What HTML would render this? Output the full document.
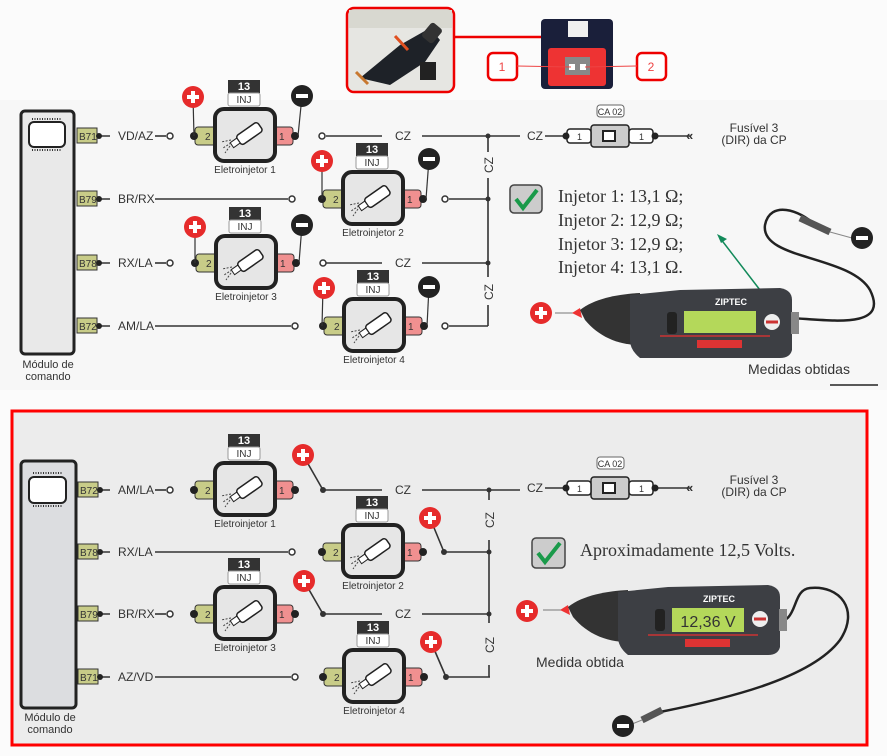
<!DOCTYPE html>
<html><head><meta charset="utf-8"><style>
html,body{margin:0;padding:0;background:#fff}
svg{display:block}
text{font-family:"Liberation Sans",sans-serif;fill:#333}
.s{font-family:"Liberation Serif",serif;fill:#333}
</style></head><body>
<svg width="887" height="756" viewBox="0 0 887 756" xmlns="http://www.w3.org/2000/svg">
<rect width="887" height="756" fill="#fbfbfb"/>
<rect x="0" y="100" width="887" height="290" fill="#f7f7f7"/>
<rect x="12" y="411" width="855" height="334" fill="#ececec" stroke="#f00" stroke-width="3"/>

<rect x="347" y="8" width="107" height="84" rx="7" fill="#e6e6e2" stroke="#e00" stroke-width="2.5"/>
<rect x="349" y="10" width="103" height="18" fill="#d8d8d0"/>
<path d="M360 78 L400 45 L430 28 L440 40 L425 62 L390 85 Z" fill="#1e2228"/>
<rect x="425" y="24" width="14" height="18" rx="3" fill="#333" transform="rotate(40 432 33)"/>
<path d="M395 36 L408 50" stroke="#e05020" stroke-width="3"/>
<path d="M356 72 L368 84" stroke="#c87830" stroke-width="3"/>
<rect x="420" y="62" width="16" height="18" fill="#222"/>
<line x1="454" y1="37" x2="541" y2="37" stroke="#e00" stroke-width="2.5"/>
<rect x="541" y="19" width="72" height="70" rx="4" fill="#1a1f3a"/>
<rect x="568" y="21" width="20" height="16" fill="#f0f0f0"/>
<rect x="548" y="48" width="58" height="38" rx="3" fill="#ee3333"/>
<rect x="565" y="57" width="25" height="18" fill="#888"/>
<rect x="569" y="64" width="6" height="6" fill="#fff"/><rect x="580" y="64" width="6" height="6" fill="#fff"/>
<rect x="488" y="53" width="29" height="27" rx="5" fill="#fff" stroke="#e00" stroke-width="2.5"/>
<text x="502" y="71" font-size="12" text-anchor="middle" style="fill:#e44">1</text>
<rect x="637" y="53" width="29" height="27" rx="5" fill="#fff" stroke="#e00" stroke-width="2.5"/>
<text x="651" y="71" font-size="12" text-anchor="middle" style="fill:#e44">2</text>
<line x1="517" y1="66" x2="571" y2="67" stroke="#e44" stroke-width="1"/>
<line x1="637" y1="66" x2="585" y2="67" stroke="#e44" stroke-width="1"/>

<g stroke="#333" stroke-width="1.6" fill="none">
<line x1="90" y1="136" x2="110" y2="136"/><line x1="155" y1="136" x2="166" y2="136"/>
<line x1="326" y1="136" x2="382" y2="136"/><line x1="422" y1="136" x2="520" y2="136"/>
<line x1="545" y1="136" x2="565" y2="136"/><line x1="655" y1="136" x2="690" y2="136"/>
<line x1="90" y1="199" x2="110" y2="199"/><line x1="155" y1="199" x2="288" y2="199"/>
<line x1="449" y1="199" x2="488" y2="199"/>
<line x1="90" y1="263" x2="110" y2="263"/><line x1="155" y1="263" x2="166" y2="263"/>
<line x1="326" y1="263" x2="382" y2="263"/><line x1="422" y1="263" x2="488" y2="263"/>
<line x1="90" y1="326" x2="110" y2="326"/><line x1="155" y1="326" x2="291" y2="326"/>
<line x1="449" y1="326" x2="488" y2="326"/>
<line x1="488" y1="136" x2="488" y2="152"/><line x1="488" y1="178" x2="488" y2="277"/><line x1="488" y1="305" x2="488" y2="326"/>
</g>
<g fill="#fff" stroke="#333" stroke-width="1.5">
<circle cx="170" cy="136" r="3"/><circle cx="322" cy="136" r="3"/><circle cx="292" cy="199" r="3"/><circle cx="445" cy="199" r="3"/>
<circle cx="170" cy="263" r="3"/><circle cx="323" cy="263" r="3"/><circle cx="295" cy="326" r="3"/><circle cx="445" cy="326" r="3"/>
</g>
<g fill="#333"><circle cx="488" cy="136" r="2.5"/><circle cx="488" cy="199" r="2.5"/><circle cx="488" cy="263" r="2.5"/></g>
<g font-size="12">
<text x="118" y="140">VD/AZ</text><text x="118" y="203">BR/RX</text><text x="118" y="267">RX/LA</text><text x="118" y="330">AM/LA</text>
<text x="395" y="140">CZ</text><text x="395" y="267">CZ</text><text x="527" y="140">CZ</text>
<text transform="translate(493,165) rotate(-90)" text-anchor="middle">CZ</text>
<text transform="translate(493,292) rotate(-90)" text-anchor="middle">CZ</text>
</g>
<rect x="21" y="111" width="53" height="243" rx="4" fill="#e9e9e9" stroke="#222" stroke-width="3"/>
<rect x="29" y="122" width="36" height="25" rx="5" fill="#fff" stroke="#222" stroke-width="2"/>
<path d="M32 119h30M32 150h30" stroke="#333" stroke-width="2" stroke-dasharray="1 1.5"/>
<text x="48" y="368" font-size="11" text-anchor="middle">Módulo de</text>
<text x="48" y="380" font-size="11" text-anchor="middle">comando</text>
<g font-size="10">
<rect x="77" y="128" width="20" height="15" fill="#c8cc88" stroke="#333"/><text x="79" y="140">B71</text>
<rect x="77" y="191" width="20" height="15" fill="#c8cc88" stroke="#333"/><text x="79" y="203">B79</text>
<rect x="77" y="255" width="20" height="15" fill="#c8cc88" stroke="#333"/><text x="79" y="267">B78</text>
<rect x="77" y="318" width="20" height="15" fill="#c8cc88" stroke="#333"/><text x="79" y="330">B72</text>
</g>
<g fill="#222"><circle cx="99" cy="136" r="3"/><circle cx="99" cy="199" r="3"/><circle cx="99" cy="263" r="3"/><circle cx="99" cy="326" r="3"/></g>

<g transform="translate(245,136)">
<rect x="-17" y="-56" width="32" height="13" fill="#333"/><text x="-1" y="-46" font-size="11" text-anchor="middle" font-weight="bold" style="fill:#fff">13</text>
<rect x="-17" y="-43" width="32" height="13" rx="2" fill="#fff" stroke="#999"/><text x="-1" y="-33" font-size="10" text-anchor="middle">INJ</text>
<rect x="-50" y="-9" width="24" height="18" rx="3" fill="#c8cc88" stroke="#333"/><text x="-40" y="4" font-size="10">2</text>
<rect x="26" y="-9" width="22" height="18" rx="3" fill="#f09090" stroke="#333"/><text x="34" y="4" font-size="10">1</text>
<circle cx="-51" cy="0" r="4" fill="#222"/><circle cx="50" cy="0" r="4" fill="#222"/>
<rect x="-30" y="-27" width="60" height="52" rx="9" fill="#e6e6e6" stroke="#222" stroke-width="4"/>
<g transform="rotate(-35)"><rect x="-8" y="-5" width="26" height="11" rx="3" fill="#fff" stroke="#222" stroke-width="1.5"/><rect x="-16" y="-3" width="8" height="6" fill="#fff" stroke="#222"/></g>
<path d="M-14 4 L-24 6 M-14 7 L-22 12 M-15 10 L-20 17" stroke="#444" stroke-dasharray="2 1.5"/>
<text x="0" y="37" font-size="10" text-anchor="middle">Eletroinjetor 1</text>
</g>
<g transform="translate(373,199)">
<rect x="-17" y="-56" width="32" height="13" fill="#333"/><text x="-1" y="-46" font-size="11" text-anchor="middle" font-weight="bold" style="fill:#fff">13</text>
<rect x="-17" y="-43" width="32" height="13" rx="2" fill="#fff" stroke="#999"/><text x="-1" y="-33" font-size="10" text-anchor="middle">INJ</text>
<rect x="-50" y="-9" width="24" height="18" rx="3" fill="#c8cc88" stroke="#333"/><text x="-40" y="4" font-size="10">2</text>
<rect x="26" y="-9" width="22" height="18" rx="3" fill="#f09090" stroke="#333"/><text x="34" y="4" font-size="10">1</text>
<circle cx="-51" cy="0" r="4" fill="#222"/><circle cx="50" cy="0" r="4" fill="#222"/>
<rect x="-30" y="-27" width="60" height="52" rx="9" fill="#e6e6e6" stroke="#222" stroke-width="4"/>
<g transform="rotate(-35)"><rect x="-8" y="-5" width="26" height="11" rx="3" fill="#fff" stroke="#222" stroke-width="1.5"/><rect x="-16" y="-3" width="8" height="6" fill="#fff" stroke="#222"/></g>
<path d="M-14 4 L-24 6 M-14 7 L-22 12 M-15 10 L-20 17" stroke="#444" stroke-dasharray="2 1.5"/>
<text x="0" y="37" font-size="10" text-anchor="middle">Eletroinjetor 2</text>
</g>
<g transform="translate(246,263)">
<rect x="-17" y="-56" width="32" height="13" fill="#333"/><text x="-1" y="-46" font-size="11" text-anchor="middle" font-weight="bold" style="fill:#fff">13</text>
<rect x="-17" y="-43" width="32" height="13" rx="2" fill="#fff" stroke="#999"/><text x="-1" y="-33" font-size="10" text-anchor="middle">INJ</text>
<rect x="-50" y="-9" width="24" height="18" rx="3" fill="#c8cc88" stroke="#333"/><text x="-40" y="4" font-size="10">2</text>
<rect x="26" y="-9" width="22" height="18" rx="3" fill="#f09090" stroke="#333"/><text x="34" y="4" font-size="10">1</text>
<circle cx="-51" cy="0" r="4" fill="#222"/><circle cx="50" cy="0" r="4" fill="#222"/>
<rect x="-30" y="-27" width="60" height="52" rx="9" fill="#e6e6e6" stroke="#222" stroke-width="4"/>
<g transform="rotate(-35)"><rect x="-8" y="-5" width="26" height="11" rx="3" fill="#fff" stroke="#222" stroke-width="1.5"/><rect x="-16" y="-3" width="8" height="6" fill="#fff" stroke="#222"/></g>
<path d="M-14 4 L-24 6 M-14 7 L-22 12 M-15 10 L-20 17" stroke="#444" stroke-dasharray="2 1.5"/>
<text x="0" y="37" font-size="10" text-anchor="middle">Eletroinjetor 3</text>
</g>
<g transform="translate(374,326)">
<rect x="-17" y="-56" width="32" height="13" fill="#333"/><text x="-1" y="-46" font-size="11" text-anchor="middle" font-weight="bold" style="fill:#fff">13</text>
<rect x="-17" y="-43" width="32" height="13" rx="2" fill="#fff" stroke="#999"/><text x="-1" y="-33" font-size="10" text-anchor="middle">INJ</text>
<rect x="-50" y="-9" width="24" height="18" rx="3" fill="#c8cc88" stroke="#333"/><text x="-40" y="4" font-size="10">2</text>
<rect x="26" y="-9" width="22" height="18" rx="3" fill="#f09090" stroke="#333"/><text x="34" y="4" font-size="10">1</text>
<circle cx="-51" cy="0" r="4" fill="#222"/><circle cx="50" cy="0" r="4" fill="#222"/>
<rect x="-30" y="-27" width="60" height="52" rx="9" fill="#e6e6e6" stroke="#222" stroke-width="4"/>
<g transform="rotate(-35)"><rect x="-8" y="-5" width="26" height="11" rx="3" fill="#fff" stroke="#222" stroke-width="1.5"/><rect x="-16" y="-3" width="8" height="6" fill="#fff" stroke="#222"/></g>
<path d="M-14 4 L-24 6 M-14 7 L-22 12 M-15 10 L-20 17" stroke="#444" stroke-dasharray="2 1.5"/>
<text x="0" y="37" font-size="10" text-anchor="middle">Eletroinjetor 4</text>
</g>
<g stroke="#333" stroke-width="1.2">
<line x1="193" y1="97" x2="194" y2="136"/><line x1="302" y1="96" x2="298" y2="136"/>
<line x1="322" y1="160" x2="322" y2="199"/><line x1="429" y1="159" x2="426" y2="199"/>
<line x1="195" y1="227" x2="195" y2="263"/><line x1="302" y1="225" x2="299" y2="263"/>
<line x1="323" y1="288" x2="322" y2="326"/><line x1="429" y1="287" x2="427" y2="326"/>
</g>
<g transform="translate(193,97)"><circle r="11" fill="#e62b2b"/><path d="M-6 0h12M0 -6v12" stroke="#fff" stroke-width="4"/></g>
<g transform="translate(322,161)"><circle r="11" fill="#e62b2b"/><path d="M-6 0h12M0 -6v12" stroke="#fff" stroke-width="4"/></g>
<g transform="translate(195,227)"><circle r="11" fill="#e62b2b"/><path d="M-6 0h12M0 -6v12" stroke="#fff" stroke-width="4"/></g>
<g transform="translate(324,288)"><circle r="11" fill="#e62b2b"/><path d="M-6 0h12M0 -6v12" stroke="#fff" stroke-width="4"/></g>
<g transform="translate(302,96)"><circle r="11" fill="#222"/><path d="M-6 0h12" stroke="#fff" stroke-width="4"/></g>
<g transform="translate(429,159)"><circle r="11" fill="#222"/><path d="M-6 0h12" stroke="#fff" stroke-width="4"/></g>
<g transform="translate(302,225)"><circle r="11" fill="#222"/><path d="M-6 0h12" stroke="#fff" stroke-width="4"/></g>
<g transform="translate(429,287)"><circle r="11" fill="#222"/><path d="M-6 0h12" stroke="#fff" stroke-width="4"/></g>
<g transform="translate(0,136)">
<rect x="597" y="-31" width="27" height="12" rx="3" fill="#fff" stroke="#666"/><text x="610" y="-21" font-size="9" text-anchor="middle">CA 02</text>
<rect x="591" y="-11" width="38" height="22" rx="3" fill="#ccc" stroke="#222" stroke-width="1.5"/>
<rect x="567" y="-7" width="24" height="14" rx="3" fill="#fff" stroke="#222" stroke-width="1.5"/><text x="577" y="4" font-size="9">1</text>
<rect x="629" y="-7" width="24" height="14" rx="3" fill="#fff" stroke="#222" stroke-width="1.5"/><text x="639" y="4" font-size="9">1</text>
<circle cx="566" cy="0" r="3.5" fill="#222"/><circle cx="655" cy="0" r="3.5" fill="#222"/>
<rect x="603" y="-5" width="12" height="10" fill="#fff" stroke="#222" stroke-width="2"/>
<text x="686" y="4" font-size="13" font-weight="bold">«</text>
<text x="754" y="-4" font-size="12" text-anchor="middle">Fusível 3</text>
<text x="754" y="8" font-size="12" text-anchor="middle">(DIR) da CP</text>
</g>
<rect x="510" y="185" width="32" height="28" rx="4" fill="#ccc" stroke="#444" stroke-width="1.5"/>
<path d="M516 199 L523 208 L537 190" stroke="#1a9a4a" stroke-width="4" fill="none"/>
<text class="s" x="558" y="202" font-size="18">Injetor 1: 13,1 Ω;</text>
<text class="s" x="558" y="226" font-size="18">Injetor 2: 12,9 Ω;</text>
<text class="s" x="558" y="250" font-size="18">Injetor 3: 12,9 Ω;</text>
<text class="s" x="558" y="273" font-size="18">Injetor 4: 13,1 Ω.</text>
<line x1="760" y1="290" x2="720" y2="238" stroke="#128a5a" stroke-width="1.5"/>
<path d="M717 234 L727 239 L721 243 Z" fill="#128a5a"/>
<path d="M790 318 C 830 320, 890 330, 870 290 C 850 255, 760 260, 765 225 C 770 200, 800 210, 815 225" stroke="#222" stroke-width="2.5" fill="none"/>
<path d="M800 218 L830 232" stroke="#555" stroke-width="7"/>
<path d="M830 232 L852 238" stroke="#888" stroke-width="1"/>
<g transform="translate(862,238)"><circle r="11" fill="#222"/><path d="M-6 0h12" stroke="#fff" stroke-width="4"/></g>
<g>
<line x1="555" y1="313" x2="575" y2="313" stroke="#777"/>
<path d="M572 313 L580 308 L582 318 Z" fill="#e33"/>
<path d="M580 310 C 595 298, 620 294, 640 293 L640 345 C 620 345, 600 338, 585 320 Z" fill="#333"/>
<path d="M630 295 L680 290 L780 288 Q 792 290 792 300 L792 350 Q 790 358 780 358 L640 358 Q 630 350 630 340 Z" fill="#3d3f44"/>
<rect x="684" y="311" width="72" height="22" fill="#b4d85a"/>
<rect x="667" y="312" width="10" height="22" rx="3" fill="#222"/>
<path d="M660 336 L770 336" stroke="#c33" stroke-width="1.5"/>
<rect x="697" y="340" width="45" height="8" fill="#d33"/>
<text x="715" y="305" font-size="9" font-weight="bold" style="fill:#fff">ZIPTEC</text>
<circle cx="772" cy="322" r="8" fill="#eee"/><path d="M766 322h12" stroke="#c33" stroke-width="3"/>
<rect x="791" y="312" width="8" height="22" fill="#888"/>
</g>
<text x="748" y="374" font-size="14">Medidas obtidas</text>
<line x1="830" y1="385" x2="878" y2="385" stroke="#222" stroke-width="1.5"/>
<g transform="translate(541,313)"><circle r="11" fill="#e62b2b"/><path d="M-6 0h12M0 -6v12" stroke="#fff" stroke-width="4"/></g>

<g stroke="#333" stroke-width="1.6" fill="none">
<line x1="90" y1="490" x2="110" y2="490"/><line x1="155" y1="490" x2="166" y2="490"/>
<line x1="323" y1="490" x2="382" y2="490"/><line x1="422" y1="490" x2="520" y2="490"/>
<line x1="545" y1="488" x2="565" y2="488"/><line x1="655" y1="488" x2="690" y2="488"/>
<line x1="90" y1="552" x2="110" y2="552"/><line x1="155" y1="552" x2="288" y2="552"/>
<line x1="444" y1="552" x2="488" y2="552"/>
<line x1="90" y1="614" x2="110" y2="614"/><line x1="155" y1="614" x2="166" y2="614"/>
<line x1="323" y1="614" x2="382" y2="614"/><line x1="422" y1="614" x2="488" y2="614"/>
<line x1="90" y1="677" x2="110" y2="677"/><line x1="155" y1="677" x2="291" y2="677"/>
<line x1="446" y1="677" x2="490" y2="677"/>
<line x1="489" y1="490" x2="489" y2="500"/><line x1="489" y1="540" x2="489" y2="623"/><line x1="489" y1="665" x2="489" y2="677"/>
<line x1="303" y1="455" x2="323" y2="490"/><line x1="430" y1="518" x2="444" y2="552"/>
<line x1="304" y1="581" x2="323" y2="614"/><line x1="431" y1="642" x2="446" y2="677"/>
</g>
<g fill="#fff" stroke="#333" stroke-width="1.5">
<circle cx="170" cy="490" r="3"/><circle cx="292" cy="552" r="3"/><circle cx="170" cy="614" r="3"/><circle cx="295" cy="677" r="3"/>
</g>
<g fill="#333"><circle cx="489" cy="490" r="2.5"/><circle cx="489" cy="552" r="2.5"/><circle cx="489" cy="614" r="2.5"/>
<circle cx="323" cy="490" r="3"/><circle cx="444" cy="552" r="3"/><circle cx="323" cy="614" r="3"/><circle cx="446" cy="677" r="3"/></g>
<g font-size="12">
<text x="118" y="494">AM/LA</text><text x="118" y="556">RX/LA</text><text x="118" y="618">BR/RX</text><text x="118" y="681">AZ/VD</text>
<text x="395" y="494">CZ</text><text x="395" y="618">CZ</text><text x="527" y="492">CZ</text>
<text transform="translate(494,520) rotate(-90)" text-anchor="middle">CZ</text>
<text transform="translate(494,645) rotate(-90)" text-anchor="middle">CZ</text>
</g>
<rect x="21" y="461" width="55" height="247" rx="4" fill="#dcdde0" stroke="#222" stroke-width="3"/>
<rect x="29" y="477" width="37" height="26" rx="5" fill="#fff" stroke="#222" stroke-width="2"/>
<path d="M33 473h30M33 506h30" stroke="#333" stroke-width="2" stroke-dasharray="1 1.5"/>
<text x="50" y="721" font-size="11" text-anchor="middle">Módulo de</text>
<text x="50" y="733" font-size="11" text-anchor="middle">comando</text>
<g font-size="10">
<rect x="78" y="482" width="20" height="15" fill="#c8cc88" stroke="#333"/><text x="80" y="494">B72</text>
<rect x="78" y="544" width="20" height="15" fill="#c8cc88" stroke="#333"/><text x="80" y="556">B78</text>
<rect x="78" y="606" width="20" height="15" fill="#c8cc88" stroke="#333"/><text x="80" y="618">B79</text>
<rect x="78" y="669" width="20" height="15" fill="#c8cc88" stroke="#333"/><text x="80" y="681">B71</text>
</g>
<g fill="#222"><circle cx="100" cy="490" r="3"/><circle cx="100" cy="552" r="3"/><circle cx="100" cy="614" r="3"/><circle cx="100" cy="677" r="3"/></g>

<g transform="translate(245,490)">
<rect x="-17" y="-56" width="32" height="13" fill="#333"/><text x="-1" y="-46" font-size="11" text-anchor="middle" font-weight="bold" style="fill:#fff">13</text>
<rect x="-17" y="-43" width="32" height="13" rx="2" fill="#fff" stroke="#999"/><text x="-1" y="-33" font-size="10" text-anchor="middle">INJ</text>
<rect x="-50" y="-9" width="24" height="18" rx="3" fill="#c8cc88" stroke="#333"/><text x="-40" y="4" font-size="10">2</text>
<rect x="26" y="-9" width="22" height="18" rx="3" fill="#f09090" stroke="#333"/><text x="34" y="4" font-size="10">1</text>
<circle cx="-51" cy="0" r="4" fill="#222"/><circle cx="50" cy="0" r="4" fill="#222"/>
<rect x="-30" y="-27" width="60" height="52" rx="9" fill="#e6e6e6" stroke="#222" stroke-width="4"/>
<g transform="rotate(-35)"><rect x="-8" y="-5" width="26" height="11" rx="3" fill="#fff" stroke="#222" stroke-width="1.5"/><rect x="-16" y="-3" width="8" height="6" fill="#fff" stroke="#222"/></g>
<path d="M-14 4 L-24 6 M-14 7 L-22 12 M-15 10 L-20 17" stroke="#444" stroke-dasharray="2 1.5"/>
<text x="0" y="37" font-size="10" text-anchor="middle">Eletroinjetor 1</text>
</g>
<g transform="translate(373,552)">
<rect x="-17" y="-56" width="32" height="13" fill="#333"/><text x="-1" y="-46" font-size="11" text-anchor="middle" font-weight="bold" style="fill:#fff">13</text>
<rect x="-17" y="-43" width="32" height="13" rx="2" fill="#fff" stroke="#999"/><text x="-1" y="-33" font-size="10" text-anchor="middle">INJ</text>
<rect x="-50" y="-9" width="24" height="18" rx="3" fill="#c8cc88" stroke="#333"/><text x="-40" y="4" font-size="10">2</text>
<rect x="26" y="-9" width="22" height="18" rx="3" fill="#f09090" stroke="#333"/><text x="34" y="4" font-size="10">1</text>
<circle cx="-51" cy="0" r="4" fill="#222"/><circle cx="50" cy="0" r="4" fill="#222"/>
<rect x="-30" y="-27" width="60" height="52" rx="9" fill="#e6e6e6" stroke="#222" stroke-width="4"/>
<g transform="rotate(-35)"><rect x="-8" y="-5" width="26" height="11" rx="3" fill="#fff" stroke="#222" stroke-width="1.5"/><rect x="-16" y="-3" width="8" height="6" fill="#fff" stroke="#222"/></g>
<path d="M-14 4 L-24 6 M-14 7 L-22 12 M-15 10 L-20 17" stroke="#444" stroke-dasharray="2 1.5"/>
<text x="0" y="37" font-size="10" text-anchor="middle">Eletroinjetor 2</text>
</g>
<g transform="translate(245,614)">
<rect x="-17" y="-56" width="32" height="13" fill="#333"/><text x="-1" y="-46" font-size="11" text-anchor="middle" font-weight="bold" style="fill:#fff">13</text>
<rect x="-17" y="-43" width="32" height="13" rx="2" fill="#fff" stroke="#999"/><text x="-1" y="-33" font-size="10" text-anchor="middle">INJ</text>
<rect x="-50" y="-9" width="24" height="18" rx="3" fill="#c8cc88" stroke="#333"/><text x="-40" y="4" font-size="10">2</text>
<rect x="26" y="-9" width="22" height="18" rx="3" fill="#f09090" stroke="#333"/><text x="34" y="4" font-size="10">1</text>
<circle cx="-51" cy="0" r="4" fill="#222"/><circle cx="50" cy="0" r="4" fill="#222"/>
<rect x="-30" y="-27" width="60" height="52" rx="9" fill="#e6e6e6" stroke="#222" stroke-width="4"/>
<g transform="rotate(-35)"><rect x="-8" y="-5" width="26" height="11" rx="3" fill="#fff" stroke="#222" stroke-width="1.5"/><rect x="-16" y="-3" width="8" height="6" fill="#fff" stroke="#222"/></g>
<path d="M-14 4 L-24 6 M-14 7 L-22 12 M-15 10 L-20 17" stroke="#444" stroke-dasharray="2 1.5"/>
<text x="0" y="37" font-size="10" text-anchor="middle">Eletroinjetor 3</text>
</g>
<g transform="translate(374,677)">
<rect x="-17" y="-56" width="32" height="13" fill="#333"/><text x="-1" y="-46" font-size="11" text-anchor="middle" font-weight="bold" style="fill:#fff">13</text>
<rect x="-17" y="-43" width="32" height="13" rx="2" fill="#fff" stroke="#999"/><text x="-1" y="-33" font-size="10" text-anchor="middle">INJ</text>
<rect x="-50" y="-9" width="24" height="18" rx="3" fill="#c8cc88" stroke="#333"/><text x="-40" y="4" font-size="10">2</text>
<rect x="26" y="-9" width="22" height="18" rx="3" fill="#f09090" stroke="#333"/><text x="34" y="4" font-size="10">1</text>
<circle cx="-51" cy="0" r="4" fill="#222"/><circle cx="50" cy="0" r="4" fill="#222"/>
<rect x="-30" y="-27" width="60" height="52" rx="9" fill="#e6e6e6" stroke="#222" stroke-width="4"/>
<g transform="rotate(-35)"><rect x="-8" y="-5" width="26" height="11" rx="3" fill="#fff" stroke="#222" stroke-width="1.5"/><rect x="-16" y="-3" width="8" height="6" fill="#fff" stroke="#222"/></g>
<path d="M-14 4 L-24 6 M-14 7 L-22 12 M-15 10 L-20 17" stroke="#444" stroke-dasharray="2 1.5"/>
<text x="0" y="37" font-size="10" text-anchor="middle">Eletroinjetor 4</text>
</g>
<g transform="translate(303,455)"><circle r="11" fill="#e62b2b"/><path d="M-6 0h12M0 -6v12" stroke="#fff" stroke-width="4"/></g>
<g transform="translate(430,518)"><circle r="11" fill="#e62b2b"/><path d="M-6 0h12M0 -6v12" stroke="#fff" stroke-width="4"/></g>
<g transform="translate(304,581)"><circle r="11" fill="#e62b2b"/><path d="M-6 0h12M0 -6v12" stroke="#fff" stroke-width="4"/></g>
<g transform="translate(431,642)"><circle r="11" fill="#e62b2b"/><path d="M-6 0h12M0 -6v12" stroke="#fff" stroke-width="4"/></g>

<g transform="translate(0,488)">
<rect x="597" y="-31" width="27" height="12" rx="3" fill="#fff" stroke="#666"/><text x="610" y="-21" font-size="9" text-anchor="middle">CA 02</text>
<rect x="591" y="-11" width="38" height="22" rx="3" fill="#ccc" stroke="#222" stroke-width="1.5"/>
<rect x="567" y="-7" width="24" height="14" rx="3" fill="#fff" stroke="#222" stroke-width="1.5"/><text x="577" y="4" font-size="9">1</text>
<rect x="629" y="-7" width="24" height="14" rx="3" fill="#fff" stroke="#222" stroke-width="1.5"/><text x="639" y="4" font-size="9">1</text>
<circle cx="566" cy="0" r="3.5" fill="#222"/><circle cx="655" cy="0" r="3.5" fill="#222"/>
<rect x="603" y="-5" width="12" height="10" fill="#fff" stroke="#222" stroke-width="2"/>
<text x="686" y="4" font-size="13" font-weight="bold">«</text>
<text x="754" y="-4" font-size="12" text-anchor="middle">Fusível 3</text>
<text x="754" y="8" font-size="12" text-anchor="middle">(DIR) da CP</text>
</g>
<rect x="532" y="538" width="33" height="30" rx="4" fill="#ccc" stroke="#444" stroke-width="1.5"/>
<path d="M538 553 L545 562 L560 543" stroke="#1a9a4a" stroke-width="4" fill="none"/>
<text class="s" x="580" y="556" font-size="18">Aproximadamente 12,5 Volts.</text>

<path d="M773 622 C 800 625, 790 590, 810 588 C 840 585, 860 610, 840 640 C 810 680, 720 700, 660 712" stroke="#222" stroke-width="2.5" fill="none"/>
<path d="M662 710 L642 720" stroke="#555" stroke-width="7"/>
<path d="M642 720 L632 724" stroke="#888" stroke-width="1"/>
<g transform="translate(623,726)"><circle r="11" fill="#222"/><path d="M-6 0h12" stroke="#fff" stroke-width="4"/></g>
<g transform="translate(-12,297)">
<line x1="555" y1="313" x2="575" y2="313" stroke="#777"/>
<path d="M572 313 L580 308 L582 318 Z" fill="#e33"/>
<path d="M580 310 C 595 298, 620 294, 640 293 L640 345 C 620 345, 600 338, 585 320 Z" fill="#333"/>
<path d="M630 295 L680 290 L780 288 Q 792 290 792 300 L792 350 Q 790 358 780 358 L640 358 Q 630 350 630 340 Z" fill="#3d3f44"/>
<rect x="684" y="311" width="72" height="24" fill="#b4d85a"/>
<text x="720" y="330" font-size="16" text-anchor="middle">12,36 V</text>
<rect x="667" y="312" width="10" height="22" rx="3" fill="#222"/>
<path d="M660 338 L770 338" stroke="#c33" stroke-width="1.5"/>
<rect x="697" y="342" width="45" height="8" fill="#d33"/>
<text x="715" y="305" font-size="9" font-weight="bold" style="fill:#fff">ZIPTEC</text>
<circle cx="772" cy="322" r="8" fill="#eee"/><path d="M766 322h12" stroke="#c33" stroke-width="3"/>
<rect x="791" y="312" width="8" height="22" fill="#888"/>
</g>
<g transform="translate(527,611)"><circle r="11" fill="#e62b2b"/><path d="M-6 0h12M0 -6v12" stroke="#fff" stroke-width="4"/></g>
<text x="536" y="667" font-size="14">Medida obtida</text>
</svg>
</body></html>
